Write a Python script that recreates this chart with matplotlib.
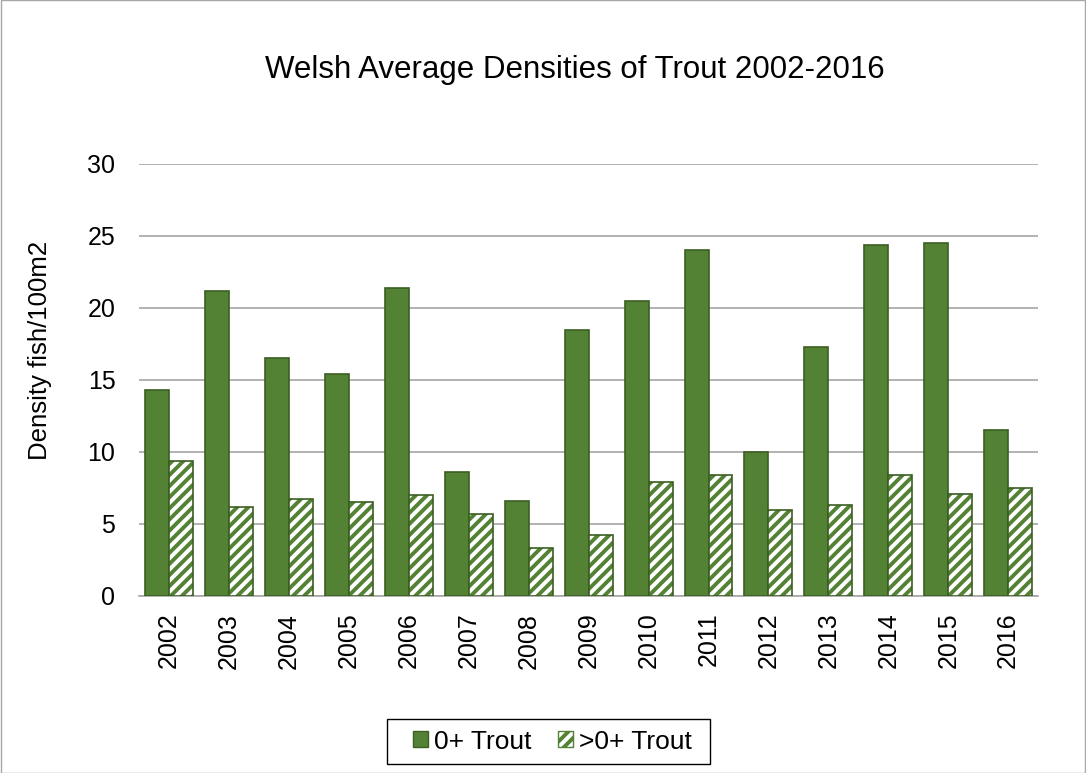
import matplotlib.pyplot as plt
import matplotlib.patches as mpatches
import numpy as np

plt.rcParams['font.family'] = ['Liberation Sans', 'DejaVu Sans']
plt.rcParams['hatch.linewidth'] = 2.8

years = ['2002', '2003', '2004', '2005', '2006', '2007', '2008', '2009',
         '2010', '2011', '2012', '2013', '2014', '2015', '2016']
trout_0 = [14.3, 21.2, 16.5, 15.4, 21.4, 8.6, 6.6, 18.5, 20.5, 24.0, 10.0, 17.3, 24.4, 24.5, 11.5]
trout_gt0 = [9.4, 6.2, 6.7, 6.5, 7.0, 5.7, 3.3, 4.2, 7.9, 8.4, 6.0, 6.3, 8.4, 7.1, 7.5]

green = '#548235'
dark = '#3b5e22'

fig = plt.figure(figsize=(10.86, 7.73), dpi=100)
ax = fig.add_axes([0.128, 0.229, 0.828, 0.559])

x = np.arange(len(years))
w = 0.4
ax.bar(x - w/2, trout_0, w, color=green, edgecolor=dark, linewidth=1.2, label='0+ Trout', zorder=3)
ax.bar(x + w/2, trout_gt0, w, color='white', edgecolor=green, hatch='///', linewidth=0, zorder=3)
ax.bar(x + w/2, trout_gt0, w, color='none', edgecolor=dark, linewidth=1.2, zorder=4)

ax.set_ylim(0, 30)
ax.set_xlim(-0.5, len(years) - 0.5)
ax.set_yticks(range(0, 31, 5))
ax.set_xticks(x)
ax.set_xticklabels(years, rotation=90)
ax.tick_params(axis='both', length=0, labelsize=18)
ax.tick_params(axis='y', pad=17)
ax.tick_params(axis='x', pad=12)
ax.yaxis.grid(True, color='#a6a6a6', linewidth=1.2, zorder=0)
for s in ['top', 'right', 'left']:
    ax.spines[s].set_visible(False)
ax.spines['bottom'].set_color('#a6a6a6')
ax.spines['bottom'].set_linewidth(1.2)

fig.text(40 / 1086, 0.547, 'Density fish/100m2', fontsize=18.5, rotation=90, ha='center', va='center')
fig.text(0.529, 0.909, 'Welsh Average Densities of Trout 2002-2016', fontsize=22.5, ha='center', va='center')

h1 = mpatches.Patch(facecolor=green, edgecolor=dark, label='0+ Trout')
h2 = mpatches.Patch(facecolor='white', edgecolor=green, hatch='///', label='>0+ Trout')
leg = fig.legend(handles=[h1, h2], loc='center', bbox_to_anchor=(0.509, 0.0407), ncol=2,
                 fontsize=19, frameon=False, handlelength=0.57, handleheight=0.57,
                 handletextpad=0.23, columnspacing=1.0, borderpad=0, borderaxespad=0)

# legend frame box, a bit wider on the left as in the reference
fig.patches.append(mpatches.Rectangle((387 / 1086, 1 - 764 / 773), 323 / 1086, 45 / 773,
                                      transform=fig.transFigure, fill=False,
                                      edgecolor='black', linewidth=1))
fig.patches.append(mpatches.Rectangle((0.0005, 0.0005), 0.999, 0.999, transform=fig.transFigure,
                                      fill=False, edgecolor='#a6a6a6', linewidth=1))

fig.savefig('out.png', dpi=100)
